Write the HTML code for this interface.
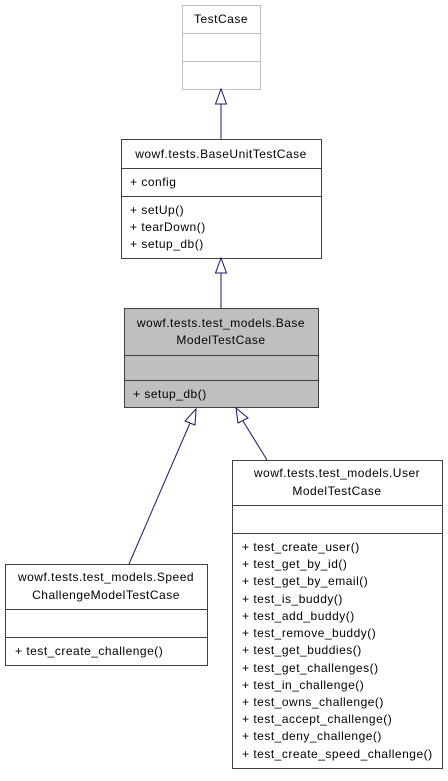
<!DOCTYPE html>
<html><head><style>
body{margin:0;background:#fff;width:448px;height:776px;overflow:hidden}
svg text{font-family:"Liberation Sans",Arial,sans-serif;font-size:12px;letter-spacing:0.5px;fill:#000}
</style></head><body>
<svg width="448" height="776" xmlns="http://www.w3.org/2000/svg">
<g fill="#fff" stroke="#bfbfbf" stroke-width="1">
<rect x="182.5" y="5.5" width="78" height="84"/>
<line x1="182.5" y1="33.5" x2="260.5" y2="33.5"/>
<line x1="182.5" y1="61.5" x2="260.5" y2="61.5"/>
</g>
<text x="221" y="23" text-anchor="middle">TestCase</text>

<g fill="#fff" stroke="#404040" stroke-width="1">
<rect x="121.5" y="139.5" width="200" height="119"/>
<line x1="121.5" y1="168.5" x2="321.5" y2="168.5"/>
<line x1="121.5" y1="196.5" x2="321.5" y2="196.5"/>
</g>
<text x="221" y="158" text-anchor="middle">wowf.tests.BaseUnitTestCase</text>
<text x="130" y="186">+ config</text>
<text x="130" y="214">+ setUp()</text>
<text x="130" y="231">+ tearDown()</text>
<text x="130" y="248">+ setup_db()</text>

<g fill="#bfbfbf" stroke="#404040" stroke-width="1">
<rect x="124.5" y="308.5" width="194" height="99"/>
<line x1="124.5" y1="355.5" x2="318.5" y2="355.5"/>
<line x1="124.5" y1="380.5" x2="318.5" y2="380.5"/>
</g>
<text x="221" y="327" text-anchor="middle">wowf.tests.test_models.Base</text>
<text x="221" y="344" text-anchor="middle">ModelTestCase</text>
<text x="133" y="398">+ setup_db()</text>

<g fill="#fff" stroke="#404040" stroke-width="1">
<rect x="5.5" y="564.5" width="202" height="101"/>
<line x1="5.5" y1="609.5" x2="207.5" y2="609.5"/>
<line x1="5.5" y1="637.5" x2="207.5" y2="637.5"/>
</g>
<text x="106" y="581" text-anchor="middle">wowf.tests.test_models.Speed</text>
<text x="106" y="599" text-anchor="middle">ChallengeModelTestCase</text>
<text x="15" y="655">+ test_create_challenge()</text>

<g fill="#fff" stroke="#404040" stroke-width="1">
<rect x="232.5" y="460.5" width="210" height="308"/>
<line x1="232.5" y1="505.5" x2="442.5" y2="505.5"/>
<line x1="232.5" y1="533.5" x2="442.5" y2="533.5"/>
</g>
<text x="337" y="477" text-anchor="middle">wowf.tests.test_models.User</text>
<text x="337" y="495" text-anchor="middle">ModelTestCase</text>
<g>
<text x="242" y="551">+ test_create_user()</text>
<text x="242" y="568">+ test_get_by_id()</text>
<text x="242" y="585">+ test_get_by_email()</text>
<text x="242" y="603">+ test_is_buddy()</text>
<text x="242" y="620">+ test_add_buddy()</text>
<text x="242" y="637">+ test_remove_buddy()</text>
<text x="242" y="654">+ test_get_buddies()</text>
<text x="242" y="672">+ test_get_challenges()</text>
<text x="242" y="689">+ test_in_challenge()</text>
<text x="242" y="706">+ test_owns_challenge()</text>
<text x="242" y="723">+ test_accept_challenge()</text>
<text x="242" y="740">+ test_deny_challenge()</text>
<text x="242" y="758">+ test_create_speed_challenge()</text>
</g>

<g stroke="#191970" stroke-width="1" fill="#fff">
<line x1="221" y1="104" x2="221" y2="139"/>
<polygon points="221,89 215.5,104 226.5,104"/>
<line x1="221" y1="273" x2="221" y2="308"/>
<polygon points="221,258 215.5,273 226.5,273"/>
<line x1="190" y1="423" x2="129" y2="564"/>
<polygon points="196,409 185,421 195,425"/>
<line x1="243" y1="421" x2="267" y2="460"/>
<polygon points="236,408 238,423 248,418"/>
</g>
</svg>
</body></html>
